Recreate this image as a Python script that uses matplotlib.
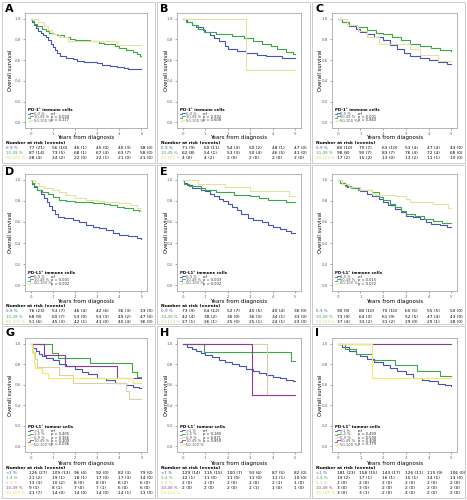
import matplotlib
matplotlib.use("Agg")
import matplotlib.pyplot as plt
from matplotlib.patches import Rectangle
from matplotlib.lines import Line2D
from matplotlib import transforms

# ---------------- data ----------------
imm_groups = ["0-9 %", "10-49 %", "50-100 %"]
tum_groups = ["<1 %", "1-4 %", "5-9 %", "10-49 %", "50-100 %"]

# Kaplan-Meier step points (years, survival)
a_low = [(0, 1), (0.05, 0.97), (0.15, 0.94), (0.25, 0.91), (0.35, 0.88), (0.45, 0.86), (0.55, 0.84),
         (0.7, 0.82), (0.8, 0.79), (0.9, 0.76), (1.0, 0.73), (1.1, 0.7), (1.2, 0.67), (1.35, 0.64),
         (1.6, 0.625), (1.9, 0.61), (2.1, 0.595), (2.4, 0.58), (3.0, 0.57), (3.2, 0.555), (3.6, 0.54),
         (3.9, 0.53), (4.2, 0.52), (4.4, 0.51), (5.0, 0.51)]
a_mid = [(0, 1), (0.05, 0.98), (0.15, 0.95), (0.3, 0.93), (0.5, 0.9), (0.7, 0.88), (0.85, 0.86),
         (1.0, 0.85), (1.2, 0.84), (1.5, 0.82), (1.8, 0.8), (2.0, 0.79), (2.7, 0.78), (3.1, 0.77),
         (3.3, 0.76), (3.8, 0.74), (4.0, 0.72), (4.3, 0.7), (4.6, 0.68), (4.8, 0.66), (4.95, 0.64), (5.0, 0.64)]
a_high = [(0, 1), (0.35, 0.964), (0.6, 0.929), (0.8, 0.893), (0.95, 0.857), (1.3, 0.821), (1.7, 0.786),
          (3.9, 0.75), (5.0, 0.75)]

b_low = [(0, 1), (0.2, 0.97), (0.4, 0.94), (0.6, 0.92), (0.9, 0.89), (1.0, 0.87), (1.2, 0.84), (1.4, 0.81),
         (1.6, 0.78), (1.9, 0.74), (2.0, 0.71), (2.4, 0.69), (2.8, 0.67), (3.3, 0.65), (3.7, 0.64),
         (4.4, 0.62), (5.0, 0.62)]
b_mid = [(0, 1), (0.15, 0.97), (0.4, 0.94), (0.7, 0.9), (0.95, 0.87), (1.5, 0.855), (2.2, 0.83), (2.7, 0.81),
         (3.1, 0.78), (3.5, 0.76), (3.9, 0.74), (4.2, 0.71), (4.6, 0.68), (4.9, 0.66), (5.0, 0.66)]
b_high = [(0, 1), (2.8, 0.5), (5.0, 0.5)]

c_low = [(0, 1), (0.2, 0.97), (0.5, 0.93), (0.8, 0.9), (1.0, 0.875), (1.3, 0.85), (1.6, 0.82), (2.0, 0.79),
         (2.3, 0.75), (2.6, 0.71), (2.9, 0.67), (3.2, 0.64), (3.6, 0.62), (4.0, 0.6), (4.4, 0.58),
         (4.8, 0.56), (5.0, 0.56)]
c_mid = [(0, 1), (0.2, 0.97), (0.5, 0.94), (0.9, 0.92), (1.3, 0.89), (1.7, 0.86), (2.0, 0.85), (2.4, 0.82),
         (2.8, 0.79), (3.2, 0.76), (3.6, 0.74), (4.1, 0.72), (4.5, 0.7), (5.0, 0.69)]
c_high = [(0, 1), (0.4, 0.94), (0.9, 0.88), (1.3, 0.82), (1.8, 0.76), (3.2, 0.71), (3.6, 0.65),
          (4.4, 0.59), (5.0, 0.59)]

d_low = [(0, 1), (0.05, 0.96), (0.15, 0.93), (0.3, 0.9), (0.45, 0.87), (0.6, 0.83), (0.75, 0.79),
         (0.85, 0.75), (0.95, 0.71), (1.1, 0.68), (1.25, 0.65), (1.5, 0.635), (1.9, 0.62), (2.2, 0.6),
         (2.5, 0.575), (2.8, 0.555), (3.1, 0.54), (3.4, 0.52), (3.7, 0.5), (4.0, 0.48), (4.4, 0.465),
         (4.8, 0.445), (5.0, 0.44)]
d_mid = [(0, 1), (0.05, 0.97), (0.15, 0.94), (0.3, 0.9), (0.5, 0.88), (0.8, 0.87), (1.0, 0.84), (1.3, 0.81),
         (1.6, 0.8), (2.0, 0.79), (2.8, 0.78), (3.3, 0.77), (3.6, 0.76), (3.9, 0.74), (4.2, 0.73),
         (4.6, 0.71), (4.9, 0.7), (5.0, 0.7)]
d_high = [(0, 1), (0.2, 0.97), (0.4, 0.94), (0.6, 0.92), (1.0, 0.9), (1.3, 0.88), (1.6, 0.86), (2.0, 0.83),
          (2.5, 0.81), (3.0, 0.8), (3.3, 0.79), (4.0, 0.78), (4.5, 0.76), (4.8, 0.73), (4.95, 0.7), (5.0, 0.7)]

e_low = [(0, 1), (0.05, 0.97), (0.2, 0.95), (0.4, 0.92), (0.8, 0.905), (1.0, 0.89), (1.2, 0.87), (1.4, 0.85),
         (1.6, 0.82), (1.8, 0.8), (2.0, 0.77), (2.2, 0.74), (2.4, 0.71), (2.6, 0.68), (2.9, 0.64),
         (3.1, 0.62), (3.5, 0.6), (3.8, 0.57), (4.0, 0.55), (4.3, 0.53), (4.6, 0.51), (4.8, 0.5), (5.0, 0.5)]
e_mid = [(0, 1), (0.05, 0.96), (0.3, 0.94), (0.8, 0.92), (1.0, 0.9), (1.5, 0.88), (2.3, 0.86), (3.0, 0.85),
         (3.4, 0.83), (3.8, 0.81), (4.6, 0.79), (5.0, 0.79)]
e_high = [(0, 1), (0.7, 0.96), (1.9, 0.93), (3.0, 0.89), (4.7, 0.85), (5.0, 0.85)]

f_low = [(0, 1), (0.1, 0.97), (0.3, 0.95), (0.4, 0.93), (0.8, 0.92), (1.0, 0.89), (1.3, 0.87), (1.5, 0.85),
         (1.8, 0.82), (2.0, 0.79), (2.2, 0.76), (2.5, 0.72), (2.8, 0.69), (3.0, 0.66), (3.3, 0.645),
         (3.6, 0.63), (3.9, 0.6), (4.1, 0.585), (4.5, 0.57), (4.8, 0.555), (5.0, 0.55)]
f_mid = [(0, 1), (0.1, 0.97), (0.3, 0.94), (0.6, 0.92), (0.9, 0.9), (1.5, 0.88), (1.8, 0.84), (2.0, 0.81),
         (2.3, 0.77), (2.5, 0.74), (2.8, 0.7), (3.0, 0.68), (3.4, 0.66), (3.8, 0.63), (4.2, 0.61),
         (4.6, 0.59), (5.0, 0.59)]
f_high = [(0, 1), (0.2, 0.96), (0.5, 0.93), (1.0, 0.9), (1.5, 0.87), (1.7, 0.86), (2.5, 0.85), (3.0, 0.82),
          (3.2, 0.79), (4.2, 0.77), (4.85, 0.73), (5.0, 0.73)]

g_lt1 = [(0, 1), (0.1, 0.96), (0.25, 0.93), (0.4, 0.9), (0.5, 0.88), (0.7, 0.86), (1.0, 0.84), (1.3, 0.8),
         (1.6, 0.78), (2.0, 0.75), (2.3, 0.72), (2.6, 0.7), (3.0, 0.67), (3.4, 0.65), (3.8, 0.62),
         (4.3, 0.6), (4.6, 0.58), (4.9, 0.565), (5.0, 0.565)]
g_1to4 = [(0, 1), (0.96, 0.905), (1.26, 0.857), (2.66, 0.81), (4.59, 0.72), (4.8, 0.68), (5.0, 0.68)]
g_5to9 = [(0, 1), (0.1, 0.923), (0.2, 0.846), (0.3, 0.769), (1.3, 0.692), (1.9, 0.615), (4.3, 0.538),
          (4.45, 0.462), (5.0, 0.462)]
g_10to49 = [(0, 1), (0.6, 0.889), (1.55, 0.778), (3.9, 0.667), (5.0, 0.667)]
g_50to100 = [(0, 1), (0.08, 0.905), (0.15, 0.81), (0.22, 0.762), (0.52, 0.714), (0.8, 0.667),
             (4.6, 0.62), (5.0, 0.62)]

h_lt1 = [(0, 1), (0.2, 0.97), (0.4, 0.95), (0.6, 0.93), (0.8, 0.91), (1.0, 0.89), (1.3, 0.87), (1.6, 0.84),
         (1.9, 0.82), (2.2, 0.8), (2.5, 0.78), (2.8, 0.75), (3.1, 0.73), (3.4, 0.71), (3.7, 0.69),
         (4.0, 0.68), (4.3, 0.67), (4.6, 0.65), (4.9, 0.635), (5.0, 0.635)]
h_1to4 = [(0, 1), (0.95, 0.917), (4.8, 0.833), (5.0, 0.833)]
h_5to9 = [(0, 1), (3.72, 0.5), (5.0, 0.5)]
h_10to49 = [(0, 1), (3.06, 0.5), (5.0, 0.5)]
h_50to100 = []

i_lt1 = [(0, 1), (0.2, 0.97), (0.5, 0.93), (0.8, 0.9), (1.0, 0.875), (1.3, 0.85), (1.6, 0.82), (2.0, 0.79),
         (2.3, 0.76), (2.6, 0.73), (3.0, 0.7), (3.3, 0.67), (3.7, 0.65), (4.0, 0.635), (4.4, 0.61),
         (4.7, 0.595), (5.0, 0.585)]
i_1to4 = [(0, 1), (0.3, 0.947), (0.8, 0.895), (1.5, 0.842), (2.5, 0.789), (3.5, 0.737), (4.5, 0.684), (5.0, 0.684)]
i_5to9 = [(0, 1), (5.0, 1)]
i_10to49 = [(0, 1), (5.0, 1)]
i_50to100 = [(0, 1), (1.5, 0.667), (5.0, 0.667)]

# p-values in legends
a_p = ["ref", "p = 0.000", "p = 0.217"]
b_p = ["ref", "p = 0.902", "p = 0.608"]
c_p = ["ref", "p = 0.001", "p = 0.840"]
d_p = ["ref", "p = 0.001", "p = 0.002"]
e_p = ["ref", "p = 0.003", "p = 0.002"]
f_p = ["ref", "p = 0.015", "p = 0.072"]
g_p = ["ref", "p = 0.405", "p = 0.366", "p = 0.209", "p = 0.036"]
h_p = ["ref", "p = 0.180", "p = 0.871", "p = 0.850", ""]
i_p = ["ref", "p = 0.499", "p = 0.500", "p = 0.308", "p = 0.779"]

# number at risk (events)
a_risk = [["77 (21)", "56 (10)", "46 (1)", "45 (0)", "40 (3)", "38 (0)"],
          ["87 (14)", "73 (5)", "68 (1)", "67 (4)", "63 (7)", "58 (0)"],
          ["28 (4)", "24 (2)", "22 (0)", "22 (1)", "21 (0)", "21 (0)"]]
b_risk = [["71 (9)", "60 (11)", "54 (4)", "50 (2)", "48 (1)", "47 (0)"],
          ["62 (8)", "54 (1)", "53 (3)", "50 (4)", "46 (5)", "41 (0)"],
          ["4 (0)", "4 (2)", "2 (0)", "2 (0)", "2 (0)", "2 (0)"]]
c_risk = [["80 (10)", "70 (7)", "63 (10)", "53 (4)", "47 (4)", "43 (0)"],
          ["98 (8)", "90 (7)", "83 (7)", "76 (4)", "72 (4)", "68 (0)"],
          ["17 (2)", "15 (2)", "13 (0)", "13 (2)", "11 (1)", "10 (0)"]]
d_risk = [["76 (23)", "53 (7)", "46 (4)", "42 (6)", "36 (3)", "33 (0)"],
          ["68 (9)", "60 (7)", "53 (0)", "53 (3)", "49 (2)", "47 (0)"],
          ["51 (6)", "45 (3)", "42 (1)", "41 (0)", "40 (4)", "36 (0)"]]
e_risk = [["73 (9)", "64 (12)", "52 (7)", "45 (5)", "40 (4)", "36 (0)"],
          ["42 (4)", "38 (2)", "36 (0)", "36 (3)", "34 (1)", "33 (0)"],
          ["27 (1)", "26 (1)", "25 (0)", "25 (1)", "24 (1)", "23 (0)"]]
f_risk = [["90 (9)", "80 (10)", "70 (10)", "60 (5)", "55 (5)", "50 (0)"],
          ["73 (9)", "64 (3)", "61 (9)", "52 (5)", "47 (4)", "43 (0)"],
          ["37 (4)", "33 (2)", "31 (2)", "29 (0)", "29 (1)", "28 (0)"]]
g_risk = [["126 (27)", "109 (13)", "96 (4)", "92 (0)", "82 (3)", "79 (0)"],
          ["21 (2)", "19 (1)", "18 (1)", "17 (0)", "17 (3)", "14 (0)"],
          ["13 (3)", "10 (2)", "8 (0)", "8 (0)", "8 (2)", "6 (0)"],
          ["9 (1)", "8 (1)", "7 (0)", "7 (1)", "6 (0)", "6 (0)"],
          ["21 (7)", "14 (0)", "14 (0)", "14 (0)", "14 (1)", "13 (0)"]]
h_risk = [["129 (14)", "115 (15)", "100 (7)", "93 (6)", "87 (5)", "82 (0)"],
          ["12 (1)", "11 (0)", "11 (0)", "11 (0)", "11 (1)", "10 (0)"],
          ["2 (0)", "2 (0)", "2 (0)", "2 (0)", "2 (1)", "1 (0)"],
          ["2 (0)", "2 (0)", "2 (0)", "2 (1)", "1 (0)", "1 (0)"],
          ["", "", "", "", "", ""]]
i_risk = [["181 (23)", "158 (15)", "143 (17)", "126 (11)", "115 (9)", "106 (0)"],
          ["19 (2)", "17 (1)", "16 (1)", "15 (1)", "14 (1)", "13 (0)"],
          ["2 (0)", "2 (0)", "2 (0)", "2 (0)", "2 (0)", "2 (0)"],
          ["3 (0)", "3 (0)", "2 (0)", "2 (0)", "2 (0)", "2 (0)"],
          ["3 (0)", "3 (1)", "2 (0)", "2 (0)", "2 (0)", "2 (0)"]]

imm_colors = ["#4455b8", "#3aa845", "#e6df9e"]
imm_text = ["#4455b8", "#3aa845", "#d9d080"]
tum_colors = ["#4455b8", "#3aa845", "#d9d0a4", "#8e3b98", "#efeb64"]
tum_text = ["#4455b8", "#3aa845", "#cfc690", "#8e3b98", "#e3dd40"]

# ---------------- layout (pixels) ----------------
W, H = 467, 500
col_panel = [(2, 155), (157, 310), (312, 465)]
col_axes = [(25, 147), (177, 301), (332, 457)]
row_panel = [(2, 163), (165, 324), (326, 498)]
row_axes = [(13, 128), (174, 291), (338, 452)]
row_xlabel = [138, 302, 463]
row_header = [142.5, 306, 468]
row_step = [5.2, 5.3, 5.0]


def fx(x):
    return x / W


def fy(y):
    return 1 - y / H


def draw_panel(fig, letter, row, col, title, groups, colors, tcolors, curves, pvals, risk, header=True):
    px0, px1 = col_panel[col]
    py0, py1 = row_panel[row]
    fig.add_artist(Rectangle((fx(px0), fy(py1)), (px1 - px0) / W, (py1 - py0) / H,
                             transform=fig.transFigure, fill=False, ec="#c4c4c4", lw=0.6))
    if letter:
        fig.text(fx(px0 + 3), fy(py0 + 2), letter, fontsize=8, fontweight="bold", va="top", ha="left")

    ax0, ax1 = col_axes[col]
    ay0, ay1 = row_axes[row]
    ax = fig.add_axes([fx(ax0), fy(ay1), (ax1 - ax0) / W, (ay1 - ay0) / H])
    for curve, c in zip(curves, colors):
        if not curve:
            continue
        t, s = zip(*curve)
        ax.step(t, s, where="post", color=c, lw=0.8)
    ax.set_xlim(-0.25, 5.25)
    ax.set_ylim(-0.055, 1.055)
    ax.set_xticks(range(6))
    ax.set_yticks([0, 0.2, 0.4, 0.6, 0.8, 1.0])
    ax.set_yticklabels(["0.0", "0.2", "0.4", "0.6", "0.8", "1.0"])
    ax.tick_params(labelsize=2.8, length=1.5, width=0.4, pad=1.2, colors="#606060")
    for sp in ax.spines.values():
        sp.set_color("#a8a8a8")
        sp.set_linewidth(0.6)

    fig.text(fx(px0 + 9), fy((ay0 + ay1) / 2), "Overall survival", rotation=90,
             fontsize=3.8, ha="center", va="center")
    fig.text(fx((ax0 + ax1) / 2), fy(row_xlabel[row]), "Years from diagnosis",
             fontsize=4.0, ha="center", va="center")

    # legend block inside the axes
    n = len(groups)
    step = 3.45
    ty = ay1 - (step * n + 7.5)
    fig.text(fx(ax0 + 3), fy(ty), title, fontsize=2.9, fontweight="bold", va="center")
    for k in range(n):
        yy = ty + step * (k + 1)
        xs = [fx(ax0 + 3), fx(ax0 + 4.5), fx(ax0 + 4.5), fx(ax0 + 8)]
        ys = [fy(yy + 0.6), fy(yy + 0.6), fy(yy - 0.6), fy(yy - 0.6)]
        fig.add_artist(Line2D(xs, ys, transform=fig.transFigure, color=colors[k], lw=0.6))
        fig.text(fx(ax0 + 8.5), fy(yy), groups[k], fontsize=2.6, color="#555555", va="center")
        fig.text(fx(ax0 + 26), fy(yy), pvals[k], fontsize=2.6, color="#222222", va="center")

    # number-at-risk table
    tr = transforms.blended_transform_factory(ax.transData, fig.transFigure)
    hy = row_header[row]
    if header:
        fig.text(fx(px0 + 4), fy(hy), "Number at risk (events)", fontsize=3.2,
                 fontweight="bold", va="center")
    for k, vals in enumerate(risk):
        yy = hy + row_step[row] * (k + 1)
        fig.text(fx(px0 + 4), fy(yy), groups[k], fontsize=2.9,
                 color=tcolors[k], va="center")
        for j, v in enumerate(vals):
            fig.text(j - 0.05, fy(yy), v, transform=tr, fontsize=3.1, va="center", ha="left")


fig = plt.figure(figsize=(W / 100, H / 100), dpi=100)

pd1 = "PD-1\u207a immune cells"
pdl1 = "PD-L1\u207a immune cells"
pdl1t = "PD-L1\u207a tumour cells"

draw_panel(fig, "A", 0, 0, pd1, imm_groups, imm_colors, imm_text, [a_low, a_mid, a_high], a_p, a_risk)
draw_panel(fig, "B", 0, 1, pd1, imm_groups, imm_colors, imm_text, [b_low, b_mid, b_high], b_p, b_risk)
draw_panel(fig, "C", 0, 2, pd1, imm_groups, imm_colors, imm_text, [c_low, c_mid, c_high], c_p, c_risk)
draw_panel(fig, "D", 1, 0, pdl1, imm_groups, imm_colors, imm_text, [d_low, d_mid, d_high], d_p, d_risk)
draw_panel(fig, "E", 1, 1, pdl1, imm_groups, imm_colors, imm_text, [e_low, e_mid, e_high], e_p, e_risk)
draw_panel(fig, "", 1, 2, pdl1, imm_groups, imm_colors, imm_text, [f_low, f_mid, f_high], f_p, f_risk,
           header=False)
draw_panel(fig, "G", 2, 0, pdl1t, tum_groups, tum_colors, tum_text,
           [g_lt1, g_1to4, g_5to9, g_10to49, g_50to100], g_p, g_risk)
draw_panel(fig, "H", 2, 1, pdl1t, tum_groups, tum_colors, tum_text,
           [h_lt1, h_1to4, h_5to9, h_10to49, h_50to100], h_p, h_risk)
draw_panel(fig, "I", 2, 2, pdl1t, tum_groups, tum_colors, tum_text,
           [i_lt1, i_1to4, i_5to9, i_10to49, i_50to100], i_p, i_risk)

fig.savefig("out.png", dpi=100)
